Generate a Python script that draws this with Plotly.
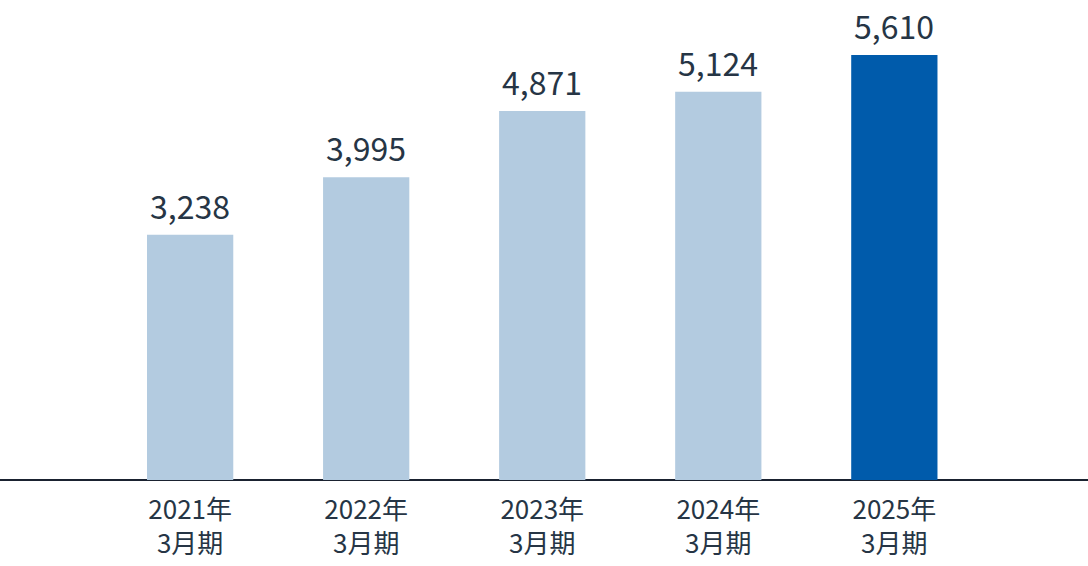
import plotly.graph_objects as go

categories = ["2021年<br>3月期", "2022年<br>3月期", "2023年<br>3月期", "2024年<br>3月期", "2025年<br>3月期"]
values = [3238, 3995, 4871, 5124, 5610]
bar_colors = ["#b3cbe0", "#b3cbe0", "#b3cbe0", "#b3cbe0", "#005bab"]

FONT = "Noto Sans CJK JP, Noto Sans, sans-serif"
TEXT_COLOR = "#263545"

fig = go.Figure()
fig.add_trace(go.Bar(
    x=list(range(len(categories))),
    y=values,
    marker=dict(color=bar_colors, line=dict(width=0)),
    width=0.49,
    hoverinfo="skip",
))

for i, v in enumerate(values):
    fig.add_annotation(
        x=i, y=v, text=f"{v:,}", showarrow=False,
        yanchor="bottom", yshift=5,
        font=dict(family=FONT, size=32, color=TEXT_COLOR),
    )

fig.update_layout(
    width=1088, height=566,
    margin=dict(l=0, r=0, t=0, b=86, autoexpand=False),
    paper_bgcolor="white", plot_bgcolor="white",
    showlegend=False,
    xaxis=dict(
        range=[-1.08, 5.10],
        tickmode="array",
        tickvals=list(range(len(categories))),
        ticktext=categories,
        tickfont=dict(family=FONT, size=26, color=TEXT_COLOR),
        showgrid=False, zeroline=False,
        showline=False, ticks="",
        ticklabelstandoff=12,
        automargin=False,
    ),
    yaxis=dict(
        range=[0, 6336],
        showticklabels=False, ticks="",
        showgrid=False,
        zeroline=True, zerolinecolor="#1a2230", zerolinewidth=2,
        automargin=False,
    ),
)

fig.write_html(
    "out.html",
    config={"displayModeBar": False, "staticPlot": True},
    post_script="document.body.style.margin='0';document.body.style.overflow='hidden';",
)
